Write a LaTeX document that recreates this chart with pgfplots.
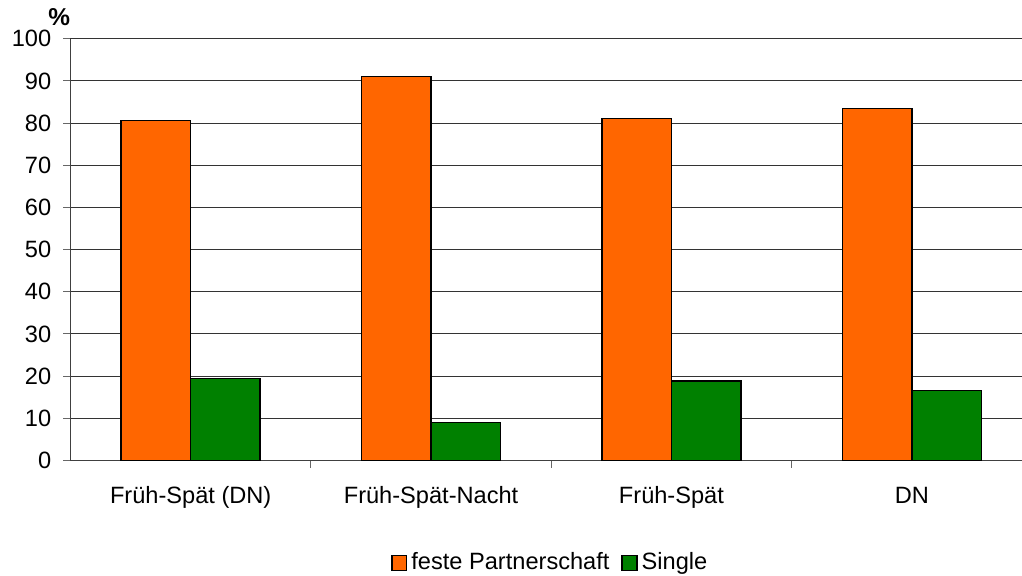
\documentclass[border=0pt]{standalone}
\usepackage{pgfplots}
\pgfplotsset{compat=1.18}
\usepackage{fontspec}
\setmainfont{Liberation Sans}
\definecolor{barorange}{HTML}{FF6600}
\definecolor{bargreen}{HTML}{008000}
\begin{document}
\fontsize{11.8pt}{14pt}\selectfont
\begin{tikzpicture}
\useasboundingbox (0,-57.25pt) rectangle (511pt,230.25pt);
\clip (0,-57.25pt) rectangle (511pt,230.25pt);
\begin{axis}[
  at={(35.25pt,0pt)}, anchor=south west,
  scale only axis,
  width=480.75pt, height=210.9pt,
  xmin=-0.5, xmax=3.5,
  ymin=0, ymax=100,
  ytick={0,10,...,100},
  xtick={0.5,1.5,2.5},
  xticklabels={},
  extra x ticks={0,1,2,3},
  extra x tick labels={Früh-Spät (DN),Früh-Spät-Nacht,Früh-Spät,DN},
  extra x tick style={major tick length=0pt, grid=none,
    xticklabel style={yshift=-9pt}},
  yticklabel style={xshift=-2pt},
  axis lines=left,
  axis line style={-, draw=black!75, line width=0.5pt},
  tick align=outside,
  major tick length=3.5pt,
  tick style={draw=black!60, line width=0.5pt},
  ymajorgrids,
  major grid style={draw=black!80, line width=0.5pt},
  /pgf/number format/assume math mode=true,
  ticklabel style={font=\fontsize{11.8pt}{14pt}\selectfont},
  clip mode=individual,
  ybar=0pt,
  bar width=0.289,
  legend style={at={(0.5,-0.243)}, anchor=center, draw=none,
    font=\fontsize{11.8pt}{14pt}\selectfont, legend columns=-1,
    /tikz/every even column/.append style={column sep=4pt}},
  legend image code/.code={\draw[#1, line width=0.7pt] (0pt,-3.6pt) rectangle (7.4pt,3.8pt);},
  legend cell align=left,
]
\addplot[fill=barorange, draw=black, line width=0.75pt]
  coordinates {(0,80.6) (1,91.0) (2,81.1) (3,83.4)};
\addplot[fill=bargreen, draw=black, line width=0.75pt]
  coordinates {(0,19.4) (1,9.0) (2,18.9) (3,16.6)};
\legend{feste Partnerschaft,Single}
\node[anchor=base east, inner sep=0pt, font=\fontsize{12.2pt}{14pt}\selectfont\bfseries]
  at ([yshift=6.85pt]rel axis cs:0,1) {\%};
\end{axis}
\end{tikzpicture}
\end{document}
